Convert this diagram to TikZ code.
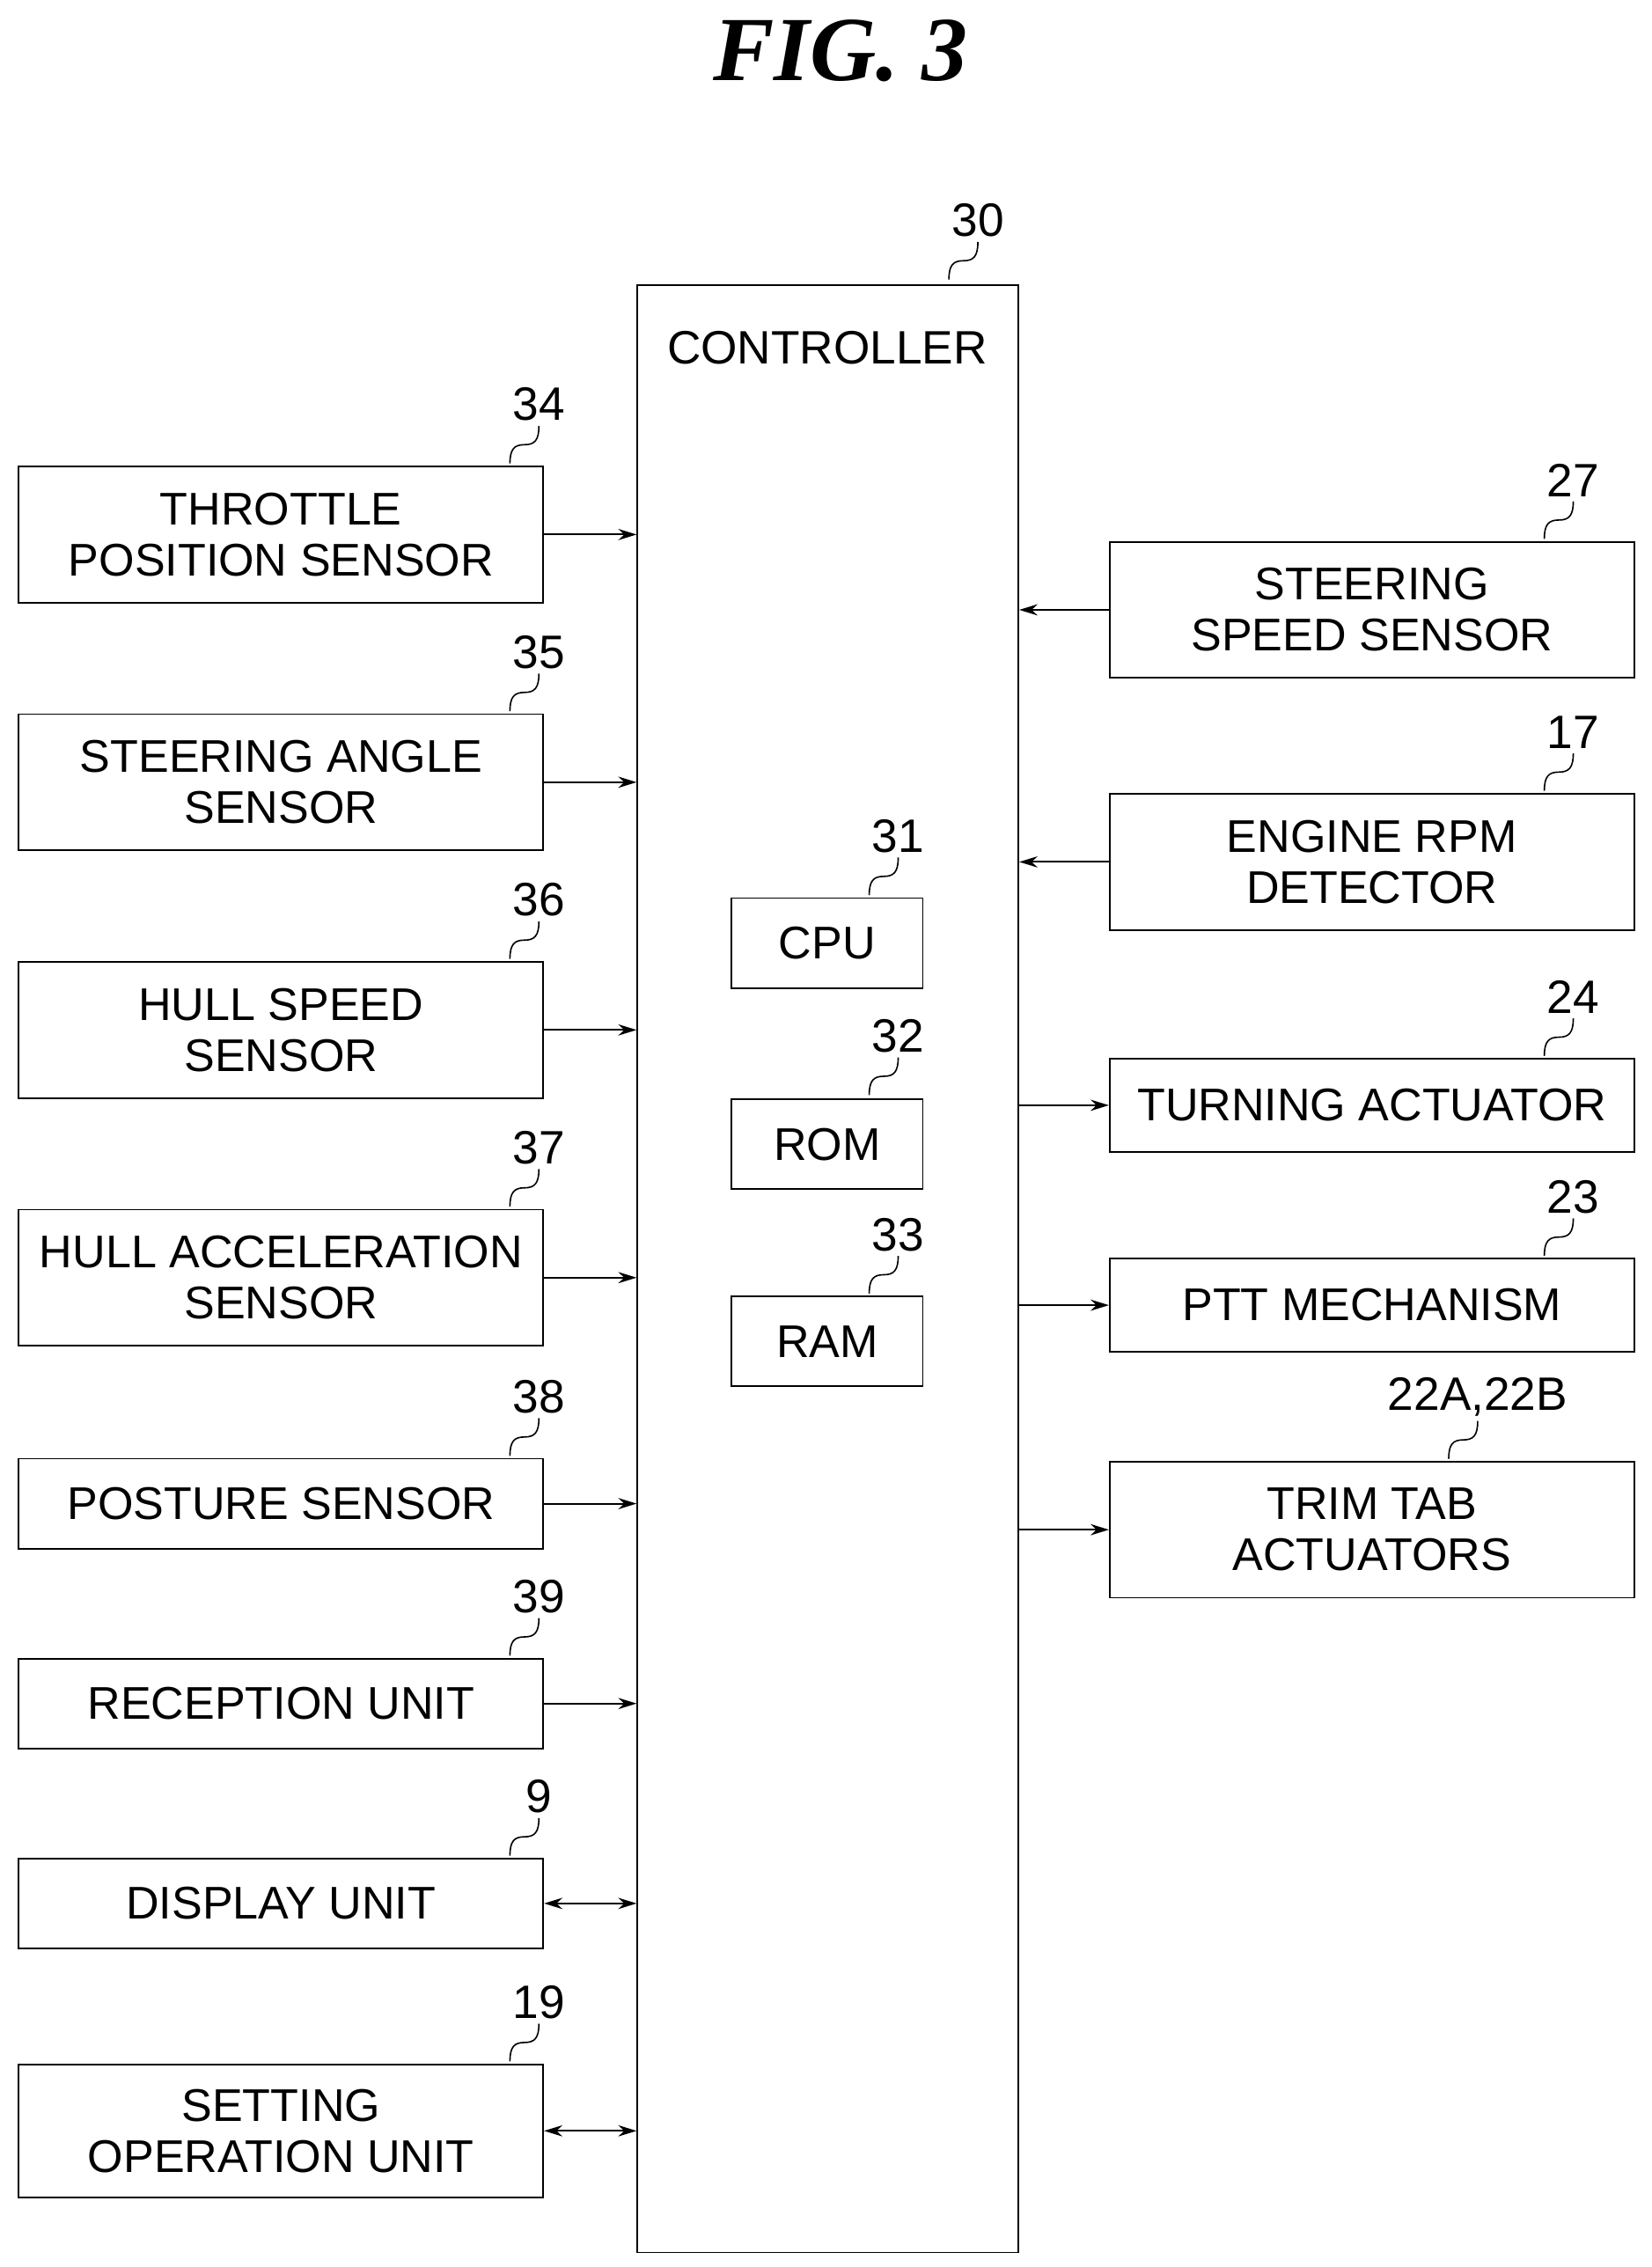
\documentclass[tikz,border=0pt]{standalone}
\usepackage{fontspec}
\setmainfont{Liberation Sans}
\newfontfamily\figfont{Liberation Serif}
\usetikzlibrary{arrows.meta,positioning}
\tikzset{
  blk/.style={draw, line width=1.6pt, align=center, inner sep=0pt, font=\fontsize{45}{50}\selectfont},
  lbl/.style={font=\fontsize{46}{50}\selectfont, inner sep=4pt},
  sig/.style={line width=1.6pt, -{Stealth[length=18pt,width=11pt]}},
  bsig/.style={line width=1.6pt, {Stealth[length=18pt,width=11pt]}-{Stealth[length=18pt,width=11pt]}}
}
% leader squiggle with its reference number
\newcommand\leader[3]{%
  \draw[line width=1.4pt] (#1) .. controls +(0,-10) and +(-7,0) .. ++(10,-13)
    .. controls +(7,0) and +(0,10) .. ++(10,-13) node[lbl, above] (#2) {#3};}
\begin{document}
\begin{tikzpicture}[x=0.05cm, y=-0.05cm]
\useasboundingbox (0,0) rectangle (1140,1565);
\node[font=\figfont\bfseries\itshape\fontsize{90}{95}\selectfont] (fig) at (580,35) {FIG. 3};

% controller
\node[blk, minimum width=263*0.05cm, minimum height=1358*0.05cm] (ctl) at (571.5,876) {};
\node[lbl] (ctltxt) at (571,240) {CONTROLLER};
\leader{655,193}{n30}{30}
\node[blk, minimum width=132*0.05cm, minimum height=62*0.05cm] (cpu) at (571,651) {CPU};
\node[blk, minimum width=132*0.05cm, minimum height=62*0.05cm] (rom) at (571,790) {ROM};
\node[blk, minimum width=132*0.05cm, minimum height=62*0.05cm] (ram) at (571,926) {RAM};
\leader{600,618}{n31}{31}
\leader{600,756}{n32}{32}
\leader{600,893}{n33}{33}

% inputs on the left
\foreach \name/\y/\h/\txt/\num in {
  thr/369/94/{THROTTLE\\POSITION SENSOR}/34,
  ang/540/94/{STEERING ANGLE\\SENSOR}/35,
  hsp/711/94/{HULL SPEED\\SENSOR}/36,
  acc/882/94/{HULL ACCELERATION\\SENSOR}/37,
  pos/1038/62/{POSTURE SENSOR}/38,
  rec/1176/62/{RECEPTION UNIT}/39,
  dsp/1314/62/{DISPLAY UNIT}/9,
  set/1471/92/{SETTING\\OPERATION UNIT}/19}
{
  \node[blk, minimum width=362*0.05cm, minimum height=\h*0.05cm] (\name) at (194,\y) {\txt};
  \leader{352,\y-\h/2-2}{n\num}{\num}
}
\foreach \name in {thr,ang,hsp,acc,pos,rec}
  \draw[sig] (\name.east) -- (\name.east -| ctl.west);
\foreach \name in {dsp,set}
  \draw[bsig] (\name.east) -- (\name.east -| ctl.west);

% right side
\foreach \name/\y/\h/\txt/\num/\lx in {
  ssp/421/94/{STEERING\\SPEED SENSOR}/27/1066,
  rpm/595/94/{ENGINE RPM\\DETECTOR}/17/1066,
  trn/763/64/{TURNING ACTUATOR}/24/1066,
  ptt/901/64/{PTT MECHANISM}/23/1066,
  tab/1056/94/{TRIM TAB\\ACTUATORS}/{22A,22B}/1000}
{
  \node[blk, minimum width=362*0.05cm, minimum height=\h*0.05cm] (\name) at (947,\y) {\txt};
  \leader{\lx,\y-\h/2-2}{n\name}{\num}
}
\foreach \name in {ssp,rpm}
  \draw[sig] (\name.west) -- (\name.west -| ctl.east);
\foreach \name in {trn,ptt,tab}
  \draw[sig] (\name.west -| ctl.east) -- (\name.west);
\end{tikzpicture}
\end{document}
